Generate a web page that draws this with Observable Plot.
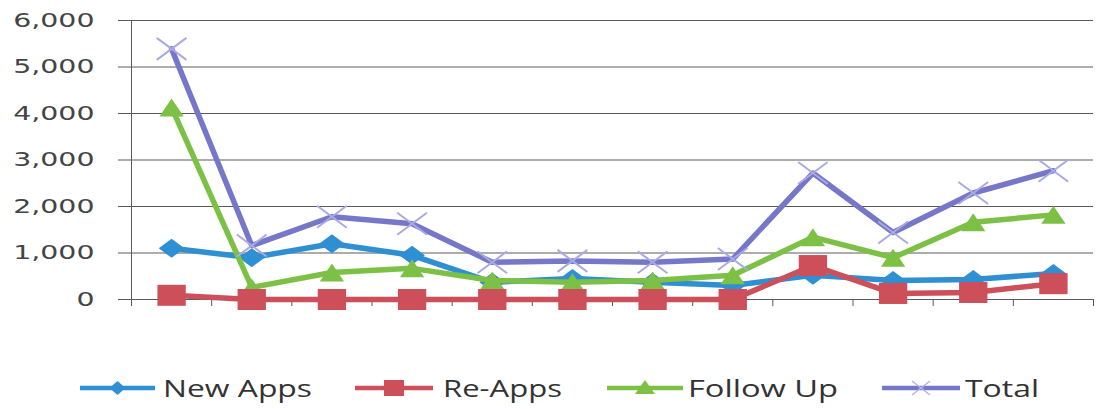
<!DOCTYPE html>
<html><head><meta charset="utf-8">
<script src="https://cdn.jsdelivr.net/npm/d3@7"></script>
<script src="https://cdn.jsdelivr.net/npm/@observablehq/plot@0.6"></script>
<style>
html,body{margin:0;padding:0;background:#fff;}
#chart{width:1099px;height:409px;overflow:hidden;}
svg{display:block;}
</style></head><body><div id="chart"></div>
<script>
// ---- data ----
const periods = [1, 2, 3, 4, 5, 6, 7, 8, 9, 10, 11, 12];
const newApps  = [1100, 900, 1200, 950, 370, 450, 370, 300, 520, 410, 430, 560];
const reApps   = [90, 0, 0, 0, 0, 0, 0, 0, 730, 130, 150, 340];
const followUp = [4130, 260, 580, 670, 410, 370, 410, 520, 1340, 900, 1660, 1820];
const total    = [5390, 1160, 1780, 1630, 800, 830, 800, 870, 2720, 1440, 2290, 2770];
const yTicks = [0, 1000, 2000, 3000, 4000, 5000, 6000];
const seriesNames  = ["New Apps", "Re-Apps", "Follow Up", "Total"];
const seriesColors = ["#2e8fd2", "#cc4f59", "#7cc146", "#7677c9"];
const seriesValues = [newApps, reApps, followUp, total];

// ---- stretched marker symbols (scan is wider than tall) ----
const K = 1.35;
const hOf = size => Math.sqrt(size / Math.PI) * 2;
const symbols = [
  {draw(c, size){const h = hOf(size), w = h * K; c.moveTo(0, -h/2); c.lineTo(w/2, 0); c.lineTo(0, h/2); c.lineTo(-w/2, 0); c.closePath();}},
  {draw(c, size){const h = hOf(size), w = h * K; c.rect(-w/2, -h/2, w, h);}},
  {draw(c, size){const h = hOf(size), w = h * K; c.moveTo(0, -h/2); c.lineTo(w/2, h/2); c.lineTo(-w/2, h/2); c.closePath();}},
  {draw(c, size){const h = hOf(size), w = h * K; c.moveTo(-w/2, -h/2); c.lineTo(w/2, h/2); c.moveTo(w/2, -h/2); c.lineTo(-w/2, h/2);}}
];
const markerR = [9.5, 10.5, 9, 11];

const rows = [];
seriesNames.forEach((name, s) => {
  periods.forEach((p, i) => rows.push({series: name, s, period: p, x: i + 0.5, y: seriesValues[s][i]}));
});

const drawOrder = [0, 2, 3, 1];
const seriesMarks = [];
for (const s of drawOrder) {
  const data = rows.filter(d => d.s === s);
  seriesMarks.push(Plot.line(data, {x: "x", y: "y", stroke: seriesColors[s], strokeWidth: 5.5, strokeLinejoin: "round", strokeLinecap: "round"}));
  if (s === 3) {
    seriesMarks.push(Plot.dot(data, {x: "x", y: "y", r: markerR[s], symbol: symbols[s], fill: "none", stroke: "#a9aae3", strokeWidth: 2}));
  } else {
    seriesMarks.push(Plot.dot(data, {x: "x", y: "y", r: markerR[s], symbol: symbols[s], fill: seriesColors[s], stroke: "none"}));
  }
}

const plot = Plot.plot({
  width: 1099,
  height: 340,
  marginLeft: 131,
  marginRight: 6,
  marginTop: 20,
  marginBottom: 41,
  style: {background: "#fff", fontFamily: "DejaVu Sans"},
  x: {domain: [0, 12]},
  y: {domain: [0, 6000]},
  marks: [
    Plot.ruleY(yTicks, {stroke: "#5a5a5a", strokeWidth: 1}),
    Plot.axisY({ticks: yTicks, tickSize: 13, tickPadding: 24, tickFormat: d3.format(","), fontSize: 20, fill: "#444", stroke: "#5a5a5a", label: null}),
    Plot.ruleX([0], {stroke: "#5a5a5a", strokeWidth: 1}),
    Plot.axisX({ticks: d3.range(0, 13), tickSize: 7, tickFormat: () => "", stroke: "#5a5a5a", label: null}),
    ...seriesMarks
  ]
});
const chart = document.getElementById("chart");
chart.appendChild(plot);

// stretch the y tick labels horizontally like the scanned reference
d3.select(plot).selectAll('g[aria-label="y-axis tick label"] text').each(function() {
  const len = this.getComputedTextLength();
  this.setAttribute("textLength", (len * 1.42).toFixed(1));
  this.setAttribute("lengthAdjust", "spacingAndGlyphs");
});

// ---- legend (below the plot SVG) ----
const legendPos = [
  {x1: 80, x2: 155, text: 163, tw: 149},
  {x1: 355, x2: 433, text: 443, tw: 119},
  {x1: 607, x2: 683, text: 688, tw: 150},
  {x1: 882, x2: 960, text: 965, tw: 74}
];
const legend = d3.create("svg").attr("width", 1099).attr("height", 69);
const cy = 48;
const legendSym = [
  (g, x, c) => g.append("path").attr("d", `M${x},${cy-7}L${x+8},${cy}L${x},${cy+7}L${x-8},${cy}Z`).attr("fill", c),
  (g, x, c) => g.append("rect").attr("x", x-10).attr("y", cy-8).attr("width", 20).attr("height", 16).attr("fill", c),
  (g, x, c) => g.append("path").attr("d", `M${x},${cy-8}L${x+10},${cy+6}L${x-10},${cy+6}Z`).attr("fill", c),
  (g, x, c) => g.append("path").attr("d", `M${x-9},${cy-7}L${x+9},${cy+7}M${x+9},${cy-7}L${x-9},${cy+7}`).attr("stroke", "#b3b4e6").attr("stroke-width", 1.5).attr("fill", "none")
];
seriesNames.forEach((name, s) => {
  const p = legendPos[s];
  const g = legend.append("g");
  g.append("line").attr("x1", p.x1).attr("x2", p.x2).attr("y1", cy).attr("y2", cy)
    .attr("stroke", seriesColors[s]).attr("stroke-width", 4.5);
  legendSym[s](g, (p.x1 + p.x2) / 2, seriesColors[s]);
  g.append("text").attr("x", p.text).attr("y", cy + 9).text(name)
    .attr("font-family", "'Open Sans', Lato, sans-serif").attr("font-size", 23).attr("font-weight", 400).attr("fill", "#333")
    .attr("textLength", p.tw).attr("lengthAdjust", "spacingAndGlyphs");
});
chart.appendChild(legend.node());
</script>
</body></html>
